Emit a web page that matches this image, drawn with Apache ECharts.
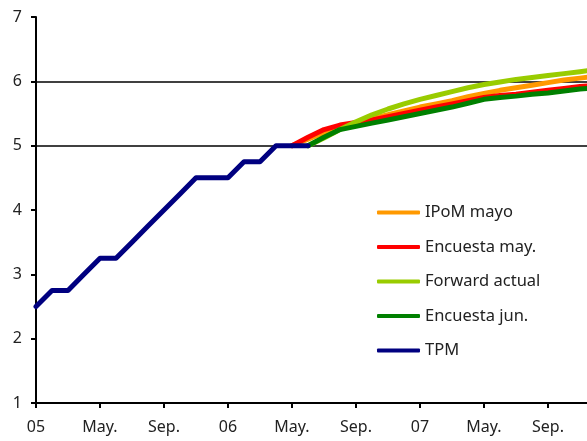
<!DOCTYPE html>
<html>
<head>
<meta charset="utf-8">
<script src="https://cdn.jsdelivr.net/npm/echarts@6/dist/echarts.min.js"></script>
<style>html,body{margin:0;padding:0;background:#fff}#c{width:587px;height:441px}</style>
</head>
<body>
<div id="c"></div>
<script>
// Monthly categories Jan 2005 - Dec 2007
var categories = ["05","Feb.","Mar.","Abr.","May.","Jun.","Jul.","Ago.","Sep.","Oct.","Nov.","Dic.",
                  "06","Feb.","Mar.","Abr.","May.","Jun.","Jul.","Ago.","Sep.","Oct.","Nov.","Dic.",
                  "07","Feb.","Mar.","Abr.","May.","Jun.","Jul.","Ago.","Sep.","Oct.","Nov.","Dic."];
var yTicks = [1,2,3,4,5,6,7];
var N = null;
var tpm = [2.5,2.75,2.75,3.0,3.25,3.25,3.5,3.75,4.0,4.25,4.5,4.5,
           4.5,4.75,4.75,5.0,5.0,5.0];
var ipomMayo = [N,N,N,N,N,N,N,N,N,N,N,N, N,N,N,N,
                5.0,5.1,5.2,5.28,5.35,5.42,5.48,5.54,
                5.6,5.65,5.7,5.76,5.81,5.86,5.9,5.94,5.98,6.02,6.05,6.08];
var encuestaMay = [N,N,N,N,N,N,N,N,N,N,N,N, N,N,N,N,
                5.0,5.13,5.25,5.32,5.36,5.40,5.45,5.5,
                5.55,5.6,5.65,5.7,5.75,5.78,5.8,5.83,5.86,5.89,5.92,5.94];
var forwardActual = [N,N,N,N,N,N,N,N,N,N,N,N, N,N,N,N,N,
                5.0,5.12,5.25,5.37,5.48,5.57,5.65,
                5.72,5.78,5.84,5.90,5.95,5.99,6.03,6.06,6.09,6.12,6.15,6.18];
var encuestaJun = [N,N,N,N,N,N,N,N,N,N,N,N, N,N,N,N,N,
                5.0,5.13,5.25,5.3,5.35,5.4,5.45,
                5.5,5.55,5.6,5.66,5.72,5.75,5.77,5.8,5.82,5.85,5.88,5.9];

var FONT = "Noto Sans";
function ln(name, data, color, z) {
  return {name: name, type: 'line', data: data, showSymbol: false, symbol: 'none',
          lineStyle: {color: color, width: 5, cap: 'round', join: 'round'},
          itemStyle: {color: color}, z: z, animation: false, connectNulls: false};
}
var chart = echarts.init(document.getElementById('c'), null, {renderer: 'canvas'});
chart.setOption({
  animation: false,
  backgroundColor: '#fff',
  grid: {left: 36, top: 17, width: 560, height: 386, containLabel: false, outerBoundsMode: 'none'},
  xAxis: {
    type: 'category', data: categories, boundaryGap: false,
    axisLine: {lineStyle: {color: '#000', width: 2}},
    axisTick: {interval: 3, length: 5, lineStyle: {color: '#000', width: 2}},
    axisLabel: {interval: 3, margin: 16, color: '#222', fontSize: 16, fontFamily: FONT},
    splitLine: {show: false}
  },
  yAxis: {
    type: 'value', min: yTicks[0], max: yTicks[yTicks.length-1], interval: 1,
    axisLine: {show: true, lineStyle: {color: '#000', width: 2}},
    axisTick: {show: true, length: 5, lineStyle: {color: '#000', width: 2}},
    axisLabel: {margin: 14, color: '#222', fontSize: 16, fontFamily: FONT},
    splitLine: {show: true, lineStyle: {color: ['rgba(0,0,0,0)','rgba(0,0,0,0)','rgba(0,0,0,0)','rgba(0,0,0,0)','#000','#000','rgba(0,0,0,0)'], width: 1.5}}
  },
  legend: {
    orient: 'vertical', left: 372, top: 199, itemWidth: 43, itemHeight: 4, itemGap: 17.5,
    icon: 'roundRect',
    textStyle: {color: '#222', fontSize: 16.5, fontFamily: FONT, padding: [0,0,0,0]},
    data: ['IPoM mayo','Encuesta may.','Forward actual','Encuesta jun.','TPM']
  },
  series: [
    ln('IPoM mayo', ipomMayo, '#FF9900', 2),
    ln('Encuesta may.', encuestaMay, '#FF0000', 3),
    ln('Forward actual', forwardActual, '#99CC00', 4),
    ln('Encuesta jun.', encuestaJun, '#008000', 5),
    ln('TPM', tpm, '#000080', 6)
  ]
});
</script>
</body>
</html>
